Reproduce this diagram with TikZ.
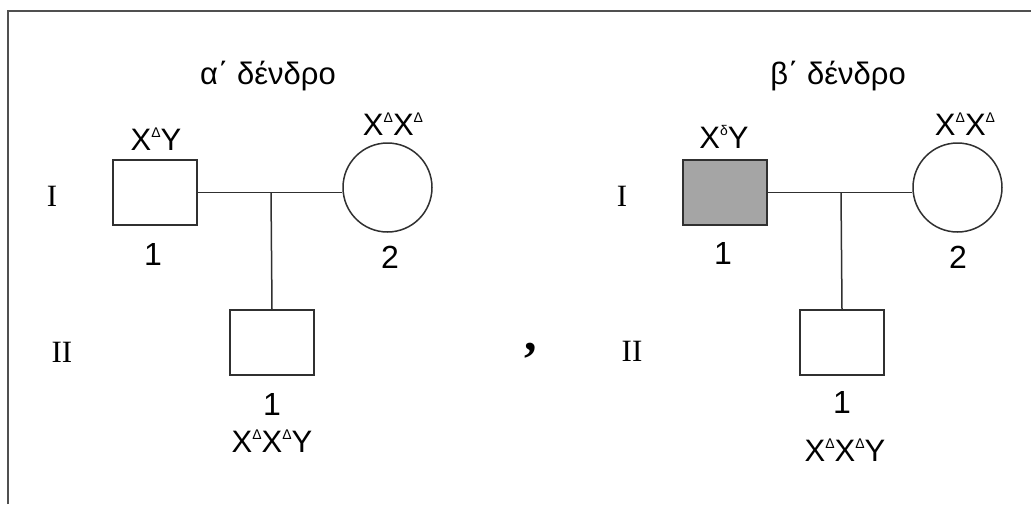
\documentclass[tikz,border=0pt]{standalone}
\usepackage{fontspec}
\setmainfont{Liberation Sans}
\newfontfamily\romfont{Liberation Serif}
\newcommand\myup[1]{\raisebox{12.5pt}{\fontsize{14}{14}\selectfont #1}}
\definecolor{linec}{HTML}{303030}
\definecolor{fillg}{HTML}{A5A5A5}
\definecolor{framec}{HTML}{505050}
\tikzset{
  male/.style={draw=linec, line width=1.5pt, rectangle, minimum width=84pt, minimum height=65pt, inner sep=0pt},
  female/.style={draw=linec, line width=1.5pt, circle, minimum size=89pt, inner sep=0pt},
  conn/.style={draw=linec, line width=1.5pt},
  lbl/.style={anchor=base, inner sep=0pt, font=\fontsize{32}{32}\selectfont},
  ttl/.style={anchor=base, inner sep=0pt, font=\fontsize{31}{31}\selectfont},
  gen/.style={anchor=base, inner sep=0pt, font=\fontsize{31}{31}\selectfont},
  roman/.style={anchor=base, inner sep=0pt, font=\romfont\fontsize{31}{31}\selectfont},
}
\begin{document}
\begin{tikzpicture}[x=1pt, y=-1pt]
\useasboundingbox (0,0) rectangle (1031,504);
\fill[white] (0,0) rectangle (1031,504);
\draw[framec, line width=2pt] (8,504) -- (8,11) -- (1031,11);

% ---- left tree ----
\node[ttl] (t1) at (268,84) {α΄ δένδρο};
\node[roman] (g1a) at (52,206) {I};
\node[roman] (g1b) at (62,362) {II};
\node[male] (a1) at (155,192.5) {};
\node[female] (a2) at (387.5,187.5) {};
\node[male] (a3) at (272,342.5) {};
\coordinate (am) at (271,192.5);
\draw[conn] (a1.east) -- (a1.east -| a2.west);
\draw[conn] (am) -- (a3.north);
\node[gen] (ga1) at (156,150) {X\myup{Δ}Y};
\node[gen] (ga2) at (393,135) {X\myup{Δ}X\myup{Δ}};
\node[lbl] (na1) at (153,265) {1};
\node[lbl] (na2) at (390,268) {2};
\node[lbl] (na3) at (272,415) {1};
\node[gen] (ga3) at (272,452) {X\myup{Δ}X\myup{Δ}Y};

% ---- comma ----
\node[inner sep=0pt, font=\romfont\bfseries\fontsize{50}{50}\selectfont] (cm) at (531,351) {,};

% ---- right tree ----
\node[ttl] (t2) at (838,84) {β΄ δένδρο};
\node[roman] (g2a) at (622,206) {I};
\node[roman] (g2b) at (632,361) {II};
\node[male, fill=fillg] (b1) at (725,192.5) {};
\node[female] (b2) at (957.5,187.5) {};
\node[male] (b3) at (842,342.5) {};
\coordinate (bm) at (841,192.5);
\draw[conn] (b1.east) -- (b1.east -| b2.west);
\draw[conn] (bm) -- (b3.north);
\node[gen] (gb1) at (724,148) {X\myup{δ}Y};
\node[gen] (gb2) at (965,135) {X\myup{Δ}X\myup{Δ}};
\node[lbl] (nb1) at (723,264) {1};
\node[lbl] (nb2) at (958,268) {2};
\node[lbl] (nb3) at (842,413) {1};
\node[gen] (gb3) at (845,461) {X\myup{Δ}X\myup{Δ}Y};
\end{tikzpicture}
\end{document}
